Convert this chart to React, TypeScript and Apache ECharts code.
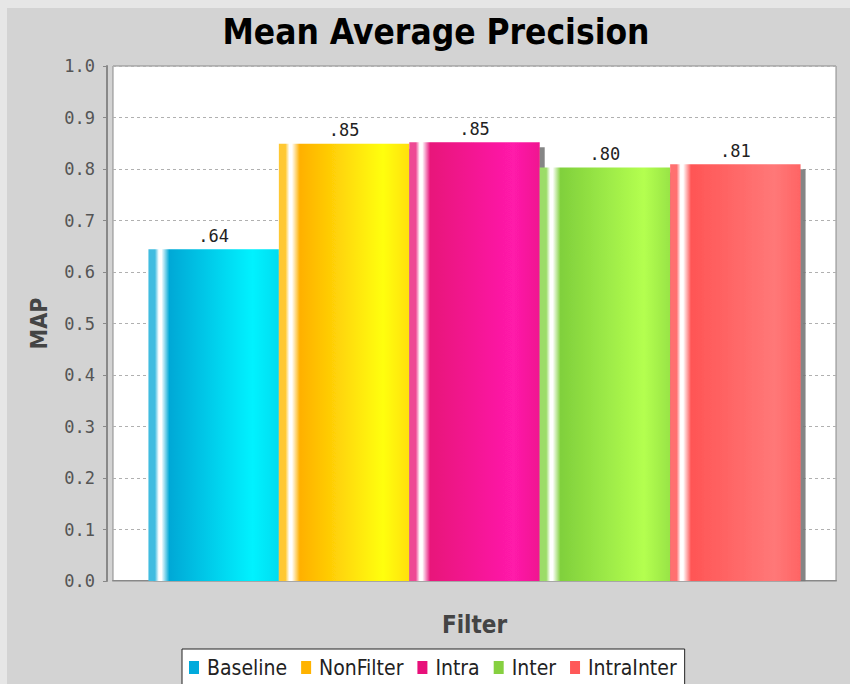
import React, { useEffect, useRef } from "react";
import * as echarts from "echarts";

const categories = ["Filter"];
const seriesNames = ["Baseline", "NonFilter", "Intra", "Inter", "IntraInter"];
const seriesValues = [0.644, 0.849, 0.852, 0.803, 0.809];
const yTicks = [0, 0.1, 0.2, 0.3, 0.4, 0.5, 0.6, 0.7, 0.8, 0.9, 1.0];

// [edge, dark, bright, end, legend]
const palette = [
  ["#40bce0", "#00a8d6", "#00f2ff", "#00dcf0", "#00aadc"],
  ["#ffc830", "#ffb000", "#ffff10", "#ffe008", "#ffb300"],
  ["#ee4a94", "#e8127a", "#ff1aaa", "#f01690", "#e8107a"],
  ["#9cdc68", "#80d03c", "#b4ff50", "#98e446", "#86d040"],
  ["#ff7070", "#ff5555", "#ff7878", "#ff6464", "#ff5858"],
];

function barGradient(c: string[]) {
  return new echarts.graphic.LinearGradient(0, 0, 1, 0, [
    { offset: 0, color: c[0] },
    { offset: 0.05, color: c[0] },
    { offset: 0.08, color: "#ffffff" },
    { offset: 0.1, color: "#ffffff" },
    { offset: 0.16, color: c[1] },
    { offset: 0.8, color: c[2] },
    { offset: 1, color: c[3] },
  ]);
}

export default function App() {
  const ref = useRef<HTMLDivElement>(null);
  useEffect(() => {
    if (!ref.current) return;
    const chart = echarts.init(ref.current, undefined, { renderer: "svg" });
    const series = seriesNames.map((name, i) => ({
      name,
      type: "bar",
      data: [seriesValues[i]],
      barGap: "0%",
      barCategoryGap: "9.8%",
      itemStyle: {
        color: barGradient(palette[i]),
        shadowColor: "rgba(120,120,120,0.9)",
        shadowOffsetX: 5,
        shadowOffsetY: 5,
        shadowBlur: 0,
      },
      label: {
        show: true,
        position: "top",
        distance: 5,
        color: "#222",
        fontSize: 17,
        fontFamily: "DejaVu Sans Mono",
        formatter: (p: any) => p.value.toFixed(2).replace(/^0/, ""),
      },
    }));
    chart.setOption({
      animation: false,
      backgroundColor: "#e6e6e6",
      graphic: [
        {
          type: "rect",
          z: -10,
          silent: true,
          shape: { x: 7, y: 8, width: 850, height: 690 },
          style: { fill: "#d3d3d3" },
        },
        {
          type: "rect",
          z: 100,
          silent: true,
          shape: { x: 112, y: 581.5, width: 730, height: 5 },
          style: { fill: "#d3d3d3" },
        },
      ],
      title: {
        text: "Mean Average Precision",
        left: 431,
        textAlign: "center",
        top: 9,
        textStyle: {
          fontFamily: "DejaVu Sans Condensed",
          fontWeight: "bold",
          fontSize: 35,
          color: "#000",
        },
      },
      grid: {
        left: 113,
        top: 66,
        width: 723,
        height: 515,
        show: true,
        backgroundColor: "#ffffff",
        borderColor: "#8a8a8a",
        borderWidth: 1,
      },
      legend: {
        data: seriesNames.map((n, i) => ({
          name: n,
          itemStyle: { color: palette[i][4] },
        })),
        left: 182,
        top: 649,
        backgroundColor: "#ffffff",
        borderColor: "#222",
        borderWidth: 1,
        padding: [8, 8, 20, 7],
        itemWidth: 10,
        itemHeight: 13,
        itemGap: 14,
        icon: "rect",
        selectedMode: false,
        textStyle: {
          fontFamily: "DejaVu Sans Condensed",
          fontSize: 21,
          color: "#222",
          padding: [0, 0, 0, 3],
        },
      },
      xAxis: {
        type: "category",
        data: categories,
        offset: 7,
        name: "Filter",
        nameLocation: "middle",
        nameGap: 25,
        nameTextStyle: {
          fontFamily: "DejaVu Sans Condensed",
          fontWeight: "bold",
          fontSize: 24,
          color: "#444",
        },
        axisLine: { lineStyle: { color: "#888", width: 2 } },
        axisTick: { alignWithLabel: true, length: 4, lineStyle: { color: "#888" } },
        axisLabel: { show: false },
      },
      yAxis: {
        type: "value",
        min: 0,
        max: 1,
        interval: 0.1,
        offset: 6,
        name: "MAP",
        nameLocation: "middle",
        nameGap: 57,
        nameTextStyle: {
          fontFamily: "DejaVu Sans Condensed",
          fontWeight: "bold",
          fontSize: 23,
          color: "#444",
        },
        axisLine: { show: true, lineStyle: { color: "#888", width: 2 } },
        axisTick: { show: true, length: 4, lineStyle: { color: "#888" } },
        axisLabel: {
          fontFamily: "DejaVu Sans Mono",
          fontSize: 17,
          color: "#555",
          margin: 12,
          formatter: (v: number) => {
            const t = yTicks.find((x) => Math.abs(x - v) < 1e-9);
            return (t ?? v).toFixed(1);
          },
        },
        splitLine: { lineStyle: { color: "#b0b0b0", type: [3, 3] } },
      },
      series,
    });
    return () => chart.dispose();
  }, []);
  return (
    <div
      ref={ref}
      style={{ position: "absolute", left: 0, top: 0, width: 850, height: 684 }}
    />
  );
}
